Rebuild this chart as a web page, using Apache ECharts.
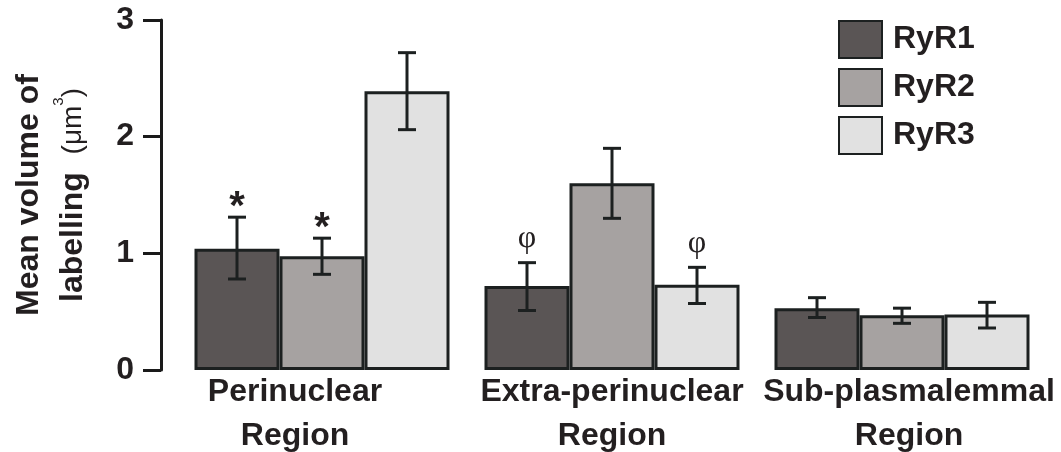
<!DOCTYPE html>
<html>
<head>
<meta charset="utf-8">
<script src="https://cdn.jsdelivr.net/npm/echarts@6/dist/echarts.min.js"></script>
<style>
  html, body { margin: 0; padding: 0; background: #fff; }
  #chart { width: 1061px; height: 452px; }
</style>
</head>
<body>
<div id="chart"></div>
<script>
// data
var regions = ['Perinuclear', 'Extra-perinuclear', 'Sub-plasmalemmal'];
var seriesNames = ['RyR1', 'RyR2', 'RyR3'];
var ryr1 = [1.04, 0.72, 0.53];
var ryr2 = [0.975, 1.60, 0.47];
var ryr3 = [2.39, 0.73, 0.475];
var ryr1Low = [0.78, 0.51, 0.45];
var ryr1High = [1.31, 0.92, 0.62];
var ryr2Low = [0.82, 1.30, 0.40];
var ryr2High = [1.13, 1.90, 0.53];
var ryr3Low = [2.06, 0.57, 0.36];
var ryr3High = [2.72, 0.88, 0.58];
var ryr1Marks = ['*', 'φ', ''];
var ryr2Marks = ['*', '', ''];
var ryr3Marks = ['', 'φ', ''];
var yTicks = [0, 1, 2, 3];

var colors = ['#5a5555', '#a6a2a1', '#e1e1e1'];
var edge = '#1c2020';
var BAR_W = 85;
var FONT = 'Liberation Sans, Arial, sans-serif';

// rows for the error bars: [region, series, low, high, mark]
var lows = [ryr1Low, ryr2Low, ryr3Low];
var highs = [ryr1High, ryr2High, ryr3High];
var marks = [ryr1Marks, ryr2Marks, ryr3Marks];
var errRows = [];
for (var s = 0; s < 3; s++) {
  for (var c = 0; c < regions.length; c++) {
    errRows.push([c, s, lows[s][c], highs[s][c], marks[s][c]]);
  }
}

function renderErr(params, api) {
  var c = api.value(0), s = api.value(1);
  var lo = api.coord([c, api.value(2)]);
  var hi = api.coord([c, api.value(3)]);
  var x = lo[0] + (s - 1) * BAR_W;
  var cap = 9;
  var st = { stroke: edge, lineWidth: 3 };
  var kids = [
    { type: 'line', shape: { x1: x, y1: lo[1], x2: x, y2: hi[1] }, style: st },
    { type: 'line', shape: { x1: x - cap, y1: lo[1], x2: x + cap, y2: lo[1] }, style: st },
    { type: 'line', shape: { x1: x - cap, y1: hi[1], x2: x + cap, y2: hi[1] }, style: st }
  ];
  var m = errRows[params.dataIndex][4];
  if (m === '*') {
    kids.push({ type: 'text', x: x, y: hi[1] - 9, style: {
      text: '*', fill: '#231f20', font: 'bold 40px ' + FONT, align: 'center', verticalAlign: 'middle' } });
  } else if (m) {
    kids.push({ type: 'text', x: x, y: hi[1] - 24, style: {
      text: m, fill: '#231f20', font: '32px Liberation Serif, serif', align: 'center', verticalAlign: 'middle' } });
  }
  return { type: 'group', children: kids };
}

var chart = echarts.init(document.getElementById('chart'));
var barVals = [ryr1, ryr2, ryr3];
var series = [];
for (var i = 0; i < 3; i++) {
  series.push({
    name: seriesNames[i],
    type: 'bar',
    data: barVals[i],
    barWidth: BAR_W,
    barGap: '0%',
    itemStyle: { color: colors[i], borderColor: edge, borderWidth: 3 }
  });
}
series.push({
  type: 'custom',
  renderItem: renderErr,
  data: errRows,
  encode: { x: 0, y: 3 },
  z: 5
});

chart.setOption({
  animation: false,
  grid: { left: 177, right: 14, top: 20, bottom: 78 },
  legend: {
    data: seriesNames,
    orient: 'vertical',
    left: 838,
    top: 20,
    padding: 0,
    itemWidth: 43,
    itemHeight: 37,
    itemGap: 9,
    icon: 'rect',
    textStyle: { fontFamily: FONT, fontWeight: 'bold', fontSize: 32, color: '#231f20', padding: [0, 0, 0, 6] }
  },
  xAxis: {
    type: 'category',
    data: regions,
    axisLine: { show: false },
    axisTick: { show: false },
    axisLabel: {
      margin: 0,
      interval: 0,
      formatter: function (v, idx) {
        var k = ['a', 'b', 'c'][idx];
        return '{' + k + '|' + v + '}\n{' + k + '|Region}';
      },
      rich: {
        a: { fontFamily: FONT, fontWeight: 'bold', fontSize: 32, color: '#231f20', lineHeight: 44, padding: [0, 54, 0, 0] },
        b: { fontFamily: FONT, fontWeight: 'bold', fontSize: 32, color: '#231f20', lineHeight: 44, padding: [0, 0, 0, 0] },
        c: { fontFamily: FONT, fontWeight: 'bold', fontSize: 32, color: '#231f20', lineHeight: 44, padding: [0, 0, 0, 14] }
      }
    }
  },
  yAxis: {
    type: 'value',
    min: yTicks[0],
    max: yTicks[yTicks.length - 1],
    interval: 1,
    offset: 16,
    splitLine: { show: false },
    axisLine: { show: true, lineStyle: { color: '#1a1a1a', width: 3 } },
    axisTick: { show: true, length: 18, lineStyle: { color: '#1a1a1a', width: 3 } },
    axisLabel: { margin: 27, fontFamily: FONT, fontWeight: 'bold', fontSize: 32, color: '#231f20' },
    name: '{t|Mean volume of}\n{t|labelling  }{u|(μm}{s|3}{u|)}',
    nameLocation: 'middle',
    nameRotate: 90,
    nameGap: 66,
    nameTextStyle: {
      rich: {
        t: { fontFamily: FONT, fontWeight: 'bold', fontSize: 32, color: '#231f20', lineHeight: 44 },
        u: { fontFamily: FONT, fontSize: 28, color: '#231f20', lineHeight: 44 },
        s: { fontFamily: FONT, fontSize: 15, color: '#231f20', lineHeight: 44, verticalAlign: 'top', padding: [0, 0, 14, 0] }
      }
    }
  },
  series: series
});
</script>
</body>
</html>
